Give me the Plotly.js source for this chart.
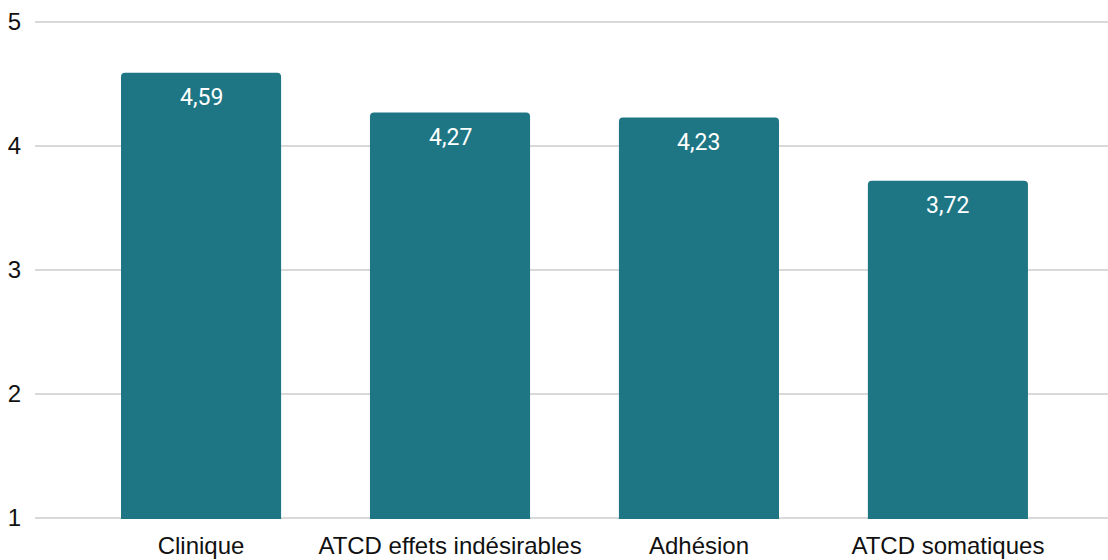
<!DOCTYPE html>
<html>
<head>
<meta charset="utf-8">
<script src="https://cdn.plot.ly/plotly-3.0.1.min.js"></script>
<style>html,body{margin:0;padding:0;background:#fff;}#chart{width:1108px;height:560px;}</style>
</head>
<body>
<div id="chart"></div>
<script>
const categories = ["Clinique", "ATCD effets indésirables", "Adhésion", "ATCD somatiques"];
const values = [4.59, 4.27, 4.23, 3.72];
const valueLabels = ["4,59", "4,27", "4,23", "3,72"];
const yTicks = [1, 2, 3, 4, 5];

const barColor = "#1e7685";

const trace = {
  type: "bar",
  x: categories,
  y: values,
  base: 0,
  width: 0.643,
  marker: {color: barColor, cornerradius: 4, line: {width: 0}},
  hoverinfo: "skip"
};

const annotations = categories.map((c, i) => ({
  x: c, y: values[i], xref: "x", yref: "y",
  text: valueLabels[i], showarrow: false,
  yanchor: "middle", yshift: -25,
  font: {family: "Roboto, sans-serif", size: 23, color: "#ffffff"}
}));

// horizontal grid lines (including the ones at the range edges)
const gridShapes = yTicks.map(v => ({
  type: "line", xref: "paper", yref: "y",
  x0: 0, x1: 1, y0: v, y1: v,
  layer: "below",
  line: {color: "#cccccc", width: 1.5}
}));

const layout = {
  width: 1108, height: 560,
  margin: {l: 35, r: 0, t: 21, b: 41},
  paper_bgcolor: "#ffffff",
  plot_bgcolor: "rgba(0,0,0,0)",
  showlegend: false,
  xaxis: {
    type: "category",
    range: [-0.667, 3.643],
    showgrid: false, zeroline: false, showline: false,
    ticks: "outside", ticklen: 5, tickcolor: "rgba(0,0,0,0)",
    tickfont: {family: "Liberation Sans, Arial, sans-serif", size: 24, color: "#111111"},
    fixedrange: true
  },
  yaxis: {
    range: [0.992, 5.008],
    tickvals: yTicks,
    ticktext: yTicks.map(String),
    showgrid: false,
    zeroline: false, showline: false,
    ticks: "outside", ticklen: 8, tickcolor: "rgba(0,0,0,0)",
    tickfont: {family: "Liberation Sans, Arial, sans-serif", size: 24, color: "#111111"},
    fixedrange: true
  },
  shapes: gridShapes,
  annotations: annotations
};

Plotly.newPlot("chart", [trace], layout, {displayModeBar: false, staticPlot: true});
</script>
</body>
</html>
